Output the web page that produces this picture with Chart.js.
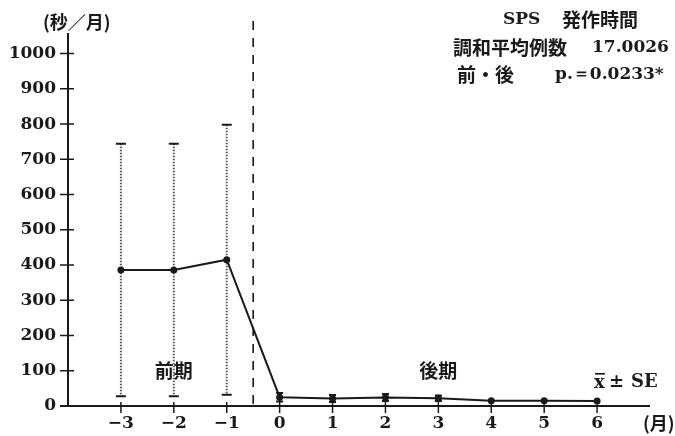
<!DOCTYPE html>
<html>
<head>
<meta charset="utf-8">
<script src="https://cdn.jsdelivr.net/npm/chart.js@4"></script>
<style>
  html, body { margin: 0; background: #fff; }
</style>
</head>
<body>
<canvas id="myChart" width="675" height="436"></canvas>
<script>
const months = [-3, -2, -1, 0, 1, 2, 3, 4, 5, 6];
const xLabels = ['\u22123', '\u22122', '\u22121', '0', '1', '2', '3', '4', '5', '6'];
const means = [386, 386, 415, 25, 21, 24, 22, 15, 15, 14];
const errs = [358, 358, 383, 12, 10, 10, 8, 0, 0, 0];
const yTicks = [0, 100, 200, 300, 400, 500, 600, 700, 800, 900, 1000];
const splitAt = -0.5;

const serif = '"DejaVu Serif", serif';
const jp = '"Noto Sans CJK JP", sans-serif';
const ink = '#1a1a1a';

const decor = {
    id: 'decor',
    beforeDatasetsDraw(chart) {
        const { ctx, chartArea: a } = chart;
        const x = chart.scales.x, y = chart.scales.y;
        ctx.save();
        ctx.strokeStyle = ink;
        ctx.lineWidth = 2;
        // axes
        ctx.beginPath();
        ctx.moveTo(a.left - 8, a.bottom); ctx.lineTo(a.right, a.bottom);
        ctx.moveTo(a.left, a.bottom); ctx.lineTo(a.left, a.top - 3);
        ctx.stroke();
        // tick marks crossing the axes
        ctx.lineWidth = 1.5;
        ctx.beginPath();
        yTicks.forEach(v => {
            const py = y.getPixelForValue(v);
            if (v === 0) return;
            ctx.moveTo(a.left - 8, py); ctx.lineTo(a.left + 6, py);
        });
        months.forEach(m => {
            const px = x.getPixelForValue(m);
            ctx.moveTo(px, a.bottom - 4); ctx.lineTo(px, a.bottom + 7);
        });
        ctx.stroke();
        // dashed separator
        ctx.setLineDash([9, 8]);
        ctx.lineWidth = 1.6;
        const sx = x.getPixelForValue(splitAt);
        ctx.beginPath();
        ctx.moveTo(sx, 21); ctx.lineTo(sx, a.bottom);
        ctx.stroke();
        // error bars
        months.forEach((m, i) => {
            if (!errs[i]) return;
            const px = x.getPixelForValue(m);
            const hi = y.getPixelForValue(means[i] + errs[i]);
            const lo = y.getPixelForValue(means[i] - errs[i]);
            const pre = m < 0;
            ctx.setLineDash(pre ? [1.5, 1.5] : []);
            ctx.strokeStyle = pre ? '#555' : ink;
            ctx.lineWidth = 2;
            ctx.beginPath();
            ctx.moveTo(px, hi); ctx.lineTo(px, lo);
            ctx.stroke();
            ctx.setLineDash([]);
            ctx.strokeStyle = ink;
            const w = pre ? 5 : 3.5;
            ctx.beginPath();
            ctx.moveTo(px - w, hi); ctx.lineTo(px + w, hi);
            ctx.moveTo(px - w, lo); ctx.lineTo(px + w, lo);
            ctx.stroke();
        });
        ctx.restore();
    },
    afterDraw(chart) {
        const { ctx } = chart;
        const x = chart.scales.x, y = chart.scales.y;
        ctx.save();
        ctx.fillStyle = ink;
        ctx.textBaseline = 'middle';
        ctx.textAlign = 'left';
        const bold = s => 'bold ' + s + 'px ' + serif;
        const kan = s => 'bold ' + s + 'px ' + jp;

        ctx.font = kan(18);
        ctx.fillText('(秒／月)', 43, 22);

        ctx.font = bold(17);
        ctx.fillText('SPS', 503, 20);
        ctx.font = kan(19);
        ctx.fillText('発作時間', 562, 20);
        ctx.fillText('調和平均例数', 453, 48);
        ctx.font = bold(17);
        ctx.fillText('17.0026', 592, 48);
        ctx.font = kan(19);
        ctx.fillText('前・後', 457, 75);
        ctx.font = bold(17);
        ctx.fillText('p.＝0.0233*', 555, 75);

        ctx.textAlign = 'center';
        ctx.font = kan(19);
        ctx.fillText('前期', x.getPixelForValue(-2), y.getPixelForValue(100));
        ctx.fillText('後期', x.getPixelForValue(3), y.getPixelForValue(100));

        ctx.textAlign = 'left';
        ctx.font = kan(18);
        ctx.fillText('(月)', 643, 423);

        // x-bar ± SE
        ctx.font = bold(18);
        ctx.fillText('x', 594, 383);
        ctx.fillRect(595, 373, 10, 1.6);
        ctx.fillText('±', 609, 382);
        ctx.fillText('SE', 631, 382);
        ctx.restore();
    }
};

const chart = document.getElementById('myChart');
const myChart = new Chart(chart, {
    type: 'line',
    data: {
        datasets: [{
            data: months.map((m, i) => ({ x: m, y: means[i] })),
            borderColor: ink,
            borderWidth: 2,
            pointRadius: 3.5,
            pointBackgroundColor: ink,
            pointBorderWidth: 0,
            tension: 0
        }]
    },
    options: {
        responsive: false,
        animation: false,
        layout: { padding: { top: 36, right: 25, left: 0, bottom: 0 } },
        plugins: { legend: { display: false }, tooltip: { enabled: false } },
        scales: {
            x: {
                type: 'linear',
                min: -4,
                max: 7,
                afterBuildTicks: s => { s.ticks = months.map(v => ({ value: v })); },
                afterFit: s => { s.height = 30; },
                ticks: {
                    padding: 7,
                    color: ink,
                    font: { family: serif, size: 17, weight: 'bold' },
                    callback: v => xLabels[months.indexOf(v)]
                },
                grid: { display: false, drawTicks: false },
                border: { display: false }
            },
            y: {
                min: 0,
                max: 1050,
                afterBuildTicks: s => { s.ticks = yTicks.map(v => ({ value: v })); },
                afterFit: s => { s.width = 68; },
                ticks: {
                    padding: 12,
                    color: ink,
                    font: { family: serif, size: 17, weight: 'bold' },
                    callback: v => String(v)
                },
                grid: { display: false, drawTicks: false },
                border: { display: false }
            }
        }
    },
    plugins: [decor]
});
</script>
</body>
</html>
